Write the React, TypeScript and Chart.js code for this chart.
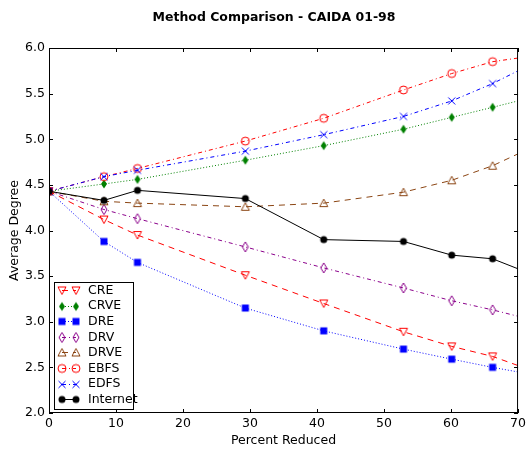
import React, { useEffect, useRef } from "react";
import { Chart, registerables } from "chart.js";

Chart.register(...registerables);

const percentReduced = [0, 8.2, 13.2, 29.3, 41.0, 52.9, 60.1, 66.2, 70];
const creValues = [4.43, 4.12, 3.95, 3.51, 3.2, 2.89, 2.73, 2.62, 2.52];
const crveValues = [4.43, 4.51, 4.56, 4.77, 4.93, 5.11, 5.24, 5.35, 5.42];
const dreValues = [4.43, 3.88, 3.65, 3.15, 2.9, 2.7, 2.59, 2.5, 2.45];
const drvValues = [4.43, 4.23, 4.13, 3.82, 3.59, 3.37, 3.23, 3.13, 3.06];
const drveValues = [4.43, 4.32, 4.3, 4.26, 4.3, 4.42, 4.55, 4.71, 4.84];
const ebfsValues = [4.43, 4.59, 4.68, 4.98, 5.23, 5.54, 5.72, 5.85, 5.89];
const edfsValues = [4.43, 4.59, 4.66, 4.87, 5.05, 5.25, 5.42, 5.61, 5.75];
const internetValues = [4.43, 4.33, 4.44, 4.35, 3.9, 3.88, 3.73, 3.69, 3.58];

const seriesNames = ["CRE", "CRVE", "DRE", "DRV", "DRVE", "EBFS", "EDFS", "Internet"];
const xTicks = [0, 10, 20, 30, 40, 50, 60, 70];
const yTicks = [2.0, 2.5, 3.0, 3.5, 4.0, 4.5, 5.0, 5.5, 6.0];

const TITLE = "Method Comparison - CAIDA 01-98";
const X_LABEL = "Percent Reduced";
const Y_LABEL = "Average Degree";
const FONT = "'DejaVu Sans', sans-serif";
const FS = 12.5;

type MarkerKind = "triDown" | "thinDiamondFill" | "square" | "thinDiamond" | "triUp" | "circle" | "x" | "dot";

function makeMarker(kind: MarkerKind, color: string): HTMLCanvasElement {
  const s = 14;
  const cv = document.createElement("canvas");
  cv.width = s;
  cv.height = s;
  const g = cv.getContext("2d")!;
  const c = s / 2;
  g.strokeStyle = color;
  g.fillStyle = color;
  g.lineWidth = 1;
  g.beginPath();
  switch (kind) {
    case "triDown":
      g.moveTo(c - 4, c - 3.5);
      g.lineTo(c + 4, c - 3.5);
      g.lineTo(c, c + 4);
      g.closePath();
      g.stroke();
      break;
    case "triUp":
      g.moveTo(c - 4, c + 3.5);
      g.lineTo(c + 4, c + 3.5);
      g.lineTo(c, c - 4);
      g.closePath();
      g.stroke();
      break;
    case "thinDiamondFill":
      g.moveTo(c, c - 4.5);
      g.lineTo(c + 3, c);
      g.lineTo(c, c + 4.5);
      g.lineTo(c - 3, c);
      g.closePath();
      g.fill();
      break;
    case "thinDiamond":
      g.moveTo(c, c - 5);
      g.lineTo(c + 3, c);
      g.lineTo(c, c + 5);
      g.lineTo(c - 3, c);
      g.closePath();
      g.stroke();
      break;
    case "square":
      g.fillRect(c - 3.5, c - 3.5, 7, 7);
      break;
    case "circle":
      g.arc(c, c, 4, 0, Math.PI * 2);
      g.stroke();
      break;
    case "x":
      g.moveTo(c - 3.5, c - 3.5);
      g.lineTo(c + 3.5, c + 3.5);
      g.moveTo(c + 3.5, c - 3.5);
      g.lineTo(c - 3.5, c + 3.5);
      g.stroke();
      break;
    case "dot":
      g.arc(c, c, 3.5, 0, Math.PI * 2);
      g.fill();
      break;
  }
  return cv;
}

export default function App() {
  const ref = useRef<HTMLCanvasElement | null>(null);

  useEffect(() => {
    if (!ref.current) return;

    const dashed = [6, 5];
    const dotted = [1, 2];
    const dashDot = [4, 3, 1, 3];
    const styles: { color: string; dash: number[]; marker: MarkerKind }[] = [
      { color: "#ff0000", dash: dashed, marker: "triDown" },
      { color: "#008000", dash: dotted, marker: "thinDiamondFill" },
      { color: "#0000ff", dash: dotted, marker: "square" },
      { color: "#8b008b", dash: dashDot, marker: "thinDiamond" },
      { color: "#8b4513", dash: dashed, marker: "triUp" },
      { color: "#ff0000", dash: dashDot, marker: "circle" },
      { color: "#0000ff", dash: dashDot, marker: "x" },
      { color: "#000000", dash: [], marker: "dot" },
    ];
    const allValues = [creValues, crveValues, dreValues, drvValues, drveValues, ebfsValues, edfsValues, internetValues];
    const markers = styles.map((s) => makeMarker(s.marker, s.color));

    const datasets = allValues.map((vals, i) => ({
      label: seriesNames[i],
      data: vals.map((v, j) => ({ x: percentReduced[j], y: v })),
      borderColor: styles[i].color,
      backgroundColor: styles[i].color,
      borderWidth: 1,
      borderDash: styles[i].dash,
      pointStyle: markers[i] as any,
      pointRadius: vals.map((_, j) => (j === vals.length - 1 ? 0 : 4)),
      pointHoverRadius: 0,
      tension: 0,
      fill: false,
      order: allValues.length - i,
    }));

    const decor = {
      id: "decor",
      afterDraw(chart: any) {
        const { ctx, chartArea: a, scales } = chart;
        ctx.save();
        ctx.strokeStyle = "#000";
        ctx.lineWidth = 1;
        ctx.setLineDash([]);
        const tl = 4;
        ctx.beginPath();
        for (const v of xTicks) {
          const px = Math.round(scales.x.getPixelForValue(v)) + 0.5;
          ctx.moveTo(px, a.bottom);
          ctx.lineTo(px, a.bottom - tl);
          ctx.moveTo(px, a.top);
          ctx.lineTo(px, a.top + tl);
        }
        for (const v of yTicks) {
          const py = Math.round(scales.y.getPixelForValue(v)) + 0.5;
          ctx.moveTo(a.left, py);
          ctx.lineTo(a.left + tl, py);
          ctx.moveTo(a.right, py);
          ctx.lineTo(a.right - tl, py);
        }
        ctx.stroke();
        ctx.strokeRect(a.left + 0.5, a.top + 0.5, a.right - a.left - 1, a.bottom - a.top - 1);

        ctx.fillStyle = "#000";
        ctx.textAlign = "center";
        ctx.textBaseline = "middle";
        ctx.font = `bold ${FS}px ${FONT}`;
        ctx.fillText(TITLE, 274, 18);
        ctx.font = `${FS}px ${FONT}`;
        ctx.fillText(X_LABEL, (a.left + a.right) / 2, 441);
        ctx.save();
        ctx.translate(15, (a.top + a.bottom) / 2);
        ctx.rotate(-Math.PI / 2);
        ctx.fillText(Y_LABEL, 0, 0);
        ctx.restore();

        const lx = 54.5, ly = 282.5, lw = 79, lh = 127;
        ctx.fillStyle = "#fff";
        ctx.fillRect(lx, ly, lw, lh);
        ctx.strokeStyle = "#000";
        ctx.strokeRect(lx, ly, lw, lh);
        const rowStep = 15.6;
        seriesNames.forEach((name, i) => {
          const y = 290 + i * rowStep;
          const yy = Math.round(y) + 0.5;
          ctx.strokeStyle = styles[i].color;
          ctx.lineWidth = 1;
          ctx.setLineDash(styles[i].dash);
          ctx.beginPath();
          ctx.moveTo(62, yy);
          ctx.lineTo(76, yy);
          ctx.stroke();
          ctx.setLineDash([]);
          const m = markers[i];
          ctx.drawImage(m, 62 - m.width / 2, yy - m.height / 2);
          ctx.drawImage(m, 76 - m.width / 2, yy - m.height / 2);
          ctx.fillStyle = "#000";
          ctx.textAlign = "left";
          ctx.textBaseline = "middle";
          ctx.font = `${FS}px ${FONT}`;
          ctx.fillText(name, 88, y + 0.5);
        });
        ctx.restore();
      },
    };

    const chart = new Chart(ref.current, {
      type: "line",
      data: { datasets },
      options: {
        responsive: false,
        animation: false,
        events: [],
        layout: { padding: { left: 0, right: 9, top: 48, bottom: 0 } },
        plugins: {
          legend: { display: false },
          title: { display: false },
          tooltip: { enabled: false },
        },
        scales: {
          x: {
            type: "linear",
            min: 0,
            max: 70,
            grid: { display: false, drawTicks: false },
            border: { display: false },
            ticks: {
              stepSize: 10,
              padding: 3,
              color: "#000",
              font: { family: FONT, size: FS },
              maxRotation: 0,
              autoSkip: false,
            },
            afterFit: (s: any) => {
              s.height = 36;
            },
          },
          y: {
            type: "linear",
            min: 2,
            max: 6,
            grid: { display: false, drawTicks: false },
            border: { display: false },
            ticks: {
              stepSize: 0.5,
              padding: 4,
              color: "#000",
              font: { family: FONT, size: FS },
              callback: (v: any) => Number(v).toFixed(1),
            },
            afterFit: (s: any) => {
              s.width = 49;
            },
          },
        },
      },
      plugins: [decor],
    });

    return () => chart.destroy();
  }, []);

  return (
    <div style={{ position: "absolute", left: 0, top: 0, width: 529, height: 449, background: "#fff" }}>
      <canvas ref={ref} width={529} height={449} style={{ display: "block" }} />
    </div>
  );
}
